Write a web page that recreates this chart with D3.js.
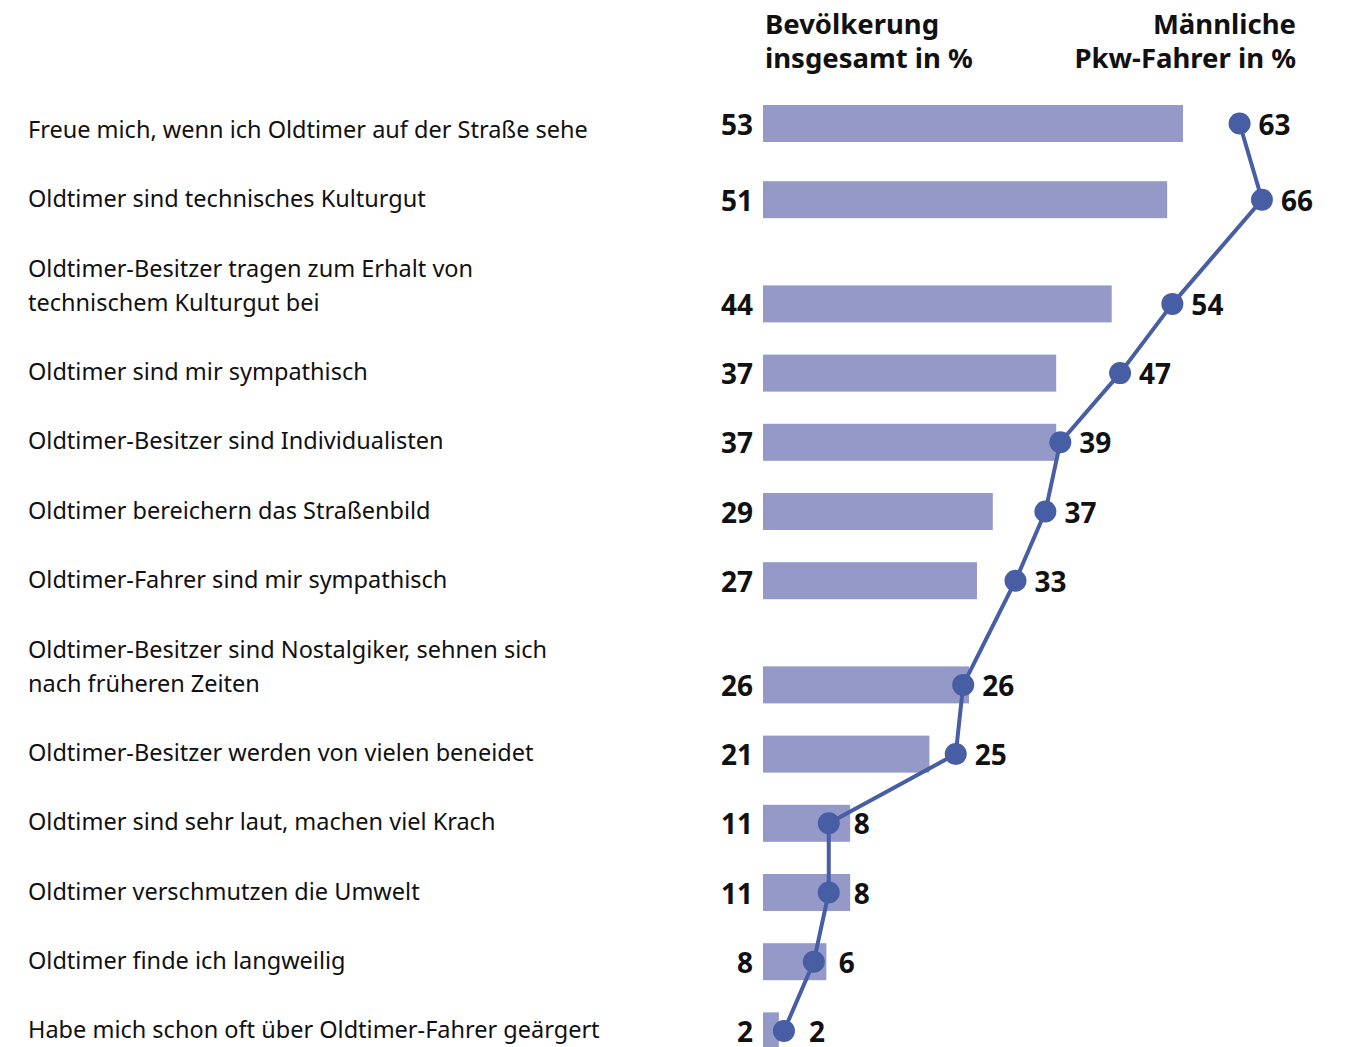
<!DOCTYPE html>
<meta charset="utf-8">
<title>Oldtimer</title>
<style>

body {
  margin: 0;
  background: #fff;
}

text {
  font-family: "Noto Sans", sans-serif;
  fill: #111;
}

.label {
  font-size: 23.5px;
}

.head, .val {
  font-weight: bold;
}

.head {
  font-size: 27.5px;
}

.val {
  font-size: 28px;
}

.bar {
  fill: #9499c8;
}

.line {
  fill: none;
  stroke: #475ea4;
  stroke-width: 4px;
  stroke-linejoin: round;
}

.dot {
  fill: #475ea4;
}

</style>
<body>
<script src="https://cdn.jsdelivr.net/npm/d3@7"></script>
<script>

var labels = [
  ["Freue mich, wenn ich Oldtimer auf der Straße sehe"],
  ["Oldtimer sind technisches Kulturgut"],
  ["Oldtimer-Besitzer tragen zum Erhalt von", "technischem Kulturgut bei"],
  ["Oldtimer sind mir sympathisch"],
  ["Oldtimer-Besitzer sind Individualisten"],
  ["Oldtimer bereichern das Straßenbild"],
  ["Oldtimer-Fahrer sind mir sympathisch"],
  ["Oldtimer-Besitzer sind Nostalgiker, sehnen sich", "nach früheren Zeiten"],
  ["Oldtimer-Besitzer werden von vielen beneidet"],
  ["Oldtimer sind sehr laut, machen viel Krach"],
  ["Oldtimer verschmutzen die Umwelt"],
  ["Oldtimer finde ich langweilig"],
  ["Habe mich schon oft über Oldtimer-Fahrer geärgert"]
];

var gesamt = [53, 51, 44, 37, 37, 29, 27, 26, 21, 11, 11, 8, 2];
var maenner = [63, 66, 54, 47, 39, 37, 33, 26, 25, 8, 8, 6, 2];

var width = 1353,
    height = 1047;

var rowStep = 69.2,
    extraLine = 35,
    barH = 37;

// row centres: two-line labels push their row down, first bar sits a bit higher
var labelYs = [], ys = [];
var yy = 130.5;
labels.forEach(function(l, i) {
  if (i > 0) yy += rowStep + (l.length - 1) * extraLine;
  labelYs.push(yy);
  ys.push(i ? yy : yy - 7);
});

var xBar = d3.scaleLinear().domain([0, 53]).range([763, 1183]);
var xDot = d3.scaleLinear().domain([0, 66]).range([769, 1262]);

var svg = d3.select("body").append("svg")
    .attr("width", width)
    .attr("height", height);

// headers
var h1 = svg.append("text").attr("class", "head").attr("x", 765).attr("y", 34);
h1.append("tspan").attr("x", 765).text("Bevölkerung");
h1.append("tspan").attr("x", 765).attr("dy", 34).text("insgesamt in %");

var h2 = svg.append("text").attr("class", "head").attr("x", 1296).attr("y", 34)
    .attr("text-anchor", "end");
h2.append("tspan").attr("x", 1296).text("Männliche");
h2.append("tspan").attr("x", 1296).attr("dy", 34).text("Pkw-Fahrer in %");

var row = svg.selectAll("g.row")
    .data(labels)
  .enter().append("g")
    .attr("class", "row");

row.append("text")
    .attr("class", "label")
    .attr("y", function(d, i) { return labelYs[i] - (d.length - 1) * 34 + 7; })
  .selectAll("tspan")
    .data(function(d) { return d; })
  .enter().append("tspan")
    .attr("x", 28)
    .attr("dy", function(d, j) { return j ? 34 : 0; })
    .text(function(d) { return d; });

row.append("rect")
    .attr("class", "bar")
    .attr("x", xBar(0))
    .attr("y", function(d, i) { return ys[i] - barH / 2; })
    .attr("width", function(d, i) { return xBar(gesamt[i]) - xBar(0); })
    .attr("height", barH);

row.append("text")
    .attr("class", "val")
    .attr("x", 753)
    .attr("y", function(d, i) { return ys[i] + 11; })
    .attr("text-anchor", "end")
    .text(function(d, i) { return gesamt[i]; });

var line = d3.line()
    .x(function(d) { return xDot(d); })
    .y(function(d, i) { return ys[i]; });

svg.append("path")
    .datum(maenner)
    .attr("class", "line")
    .attr("d", line);

svg.selectAll("circle.dot")
    .data(maenner)
  .enter().append("circle")
    .attr("class", "dot")
    .attr("cx", function(d) { return xDot(d); })
    .attr("cy", function(d, i) { return ys[i]; })
    .attr("r", 11);

svg.selectAll("text.mval")
    .data(maenner)
  .enter().append("text")
    .attr("class", "val mval")
    .attr("x", function(d) { return xDot(d) + (d < 10 ? 25 : 19); })
    .attr("y", function(d, i) { return ys[i] + 11; })
    .text(function(d) { return d; });

</script>
</body>
</html>
